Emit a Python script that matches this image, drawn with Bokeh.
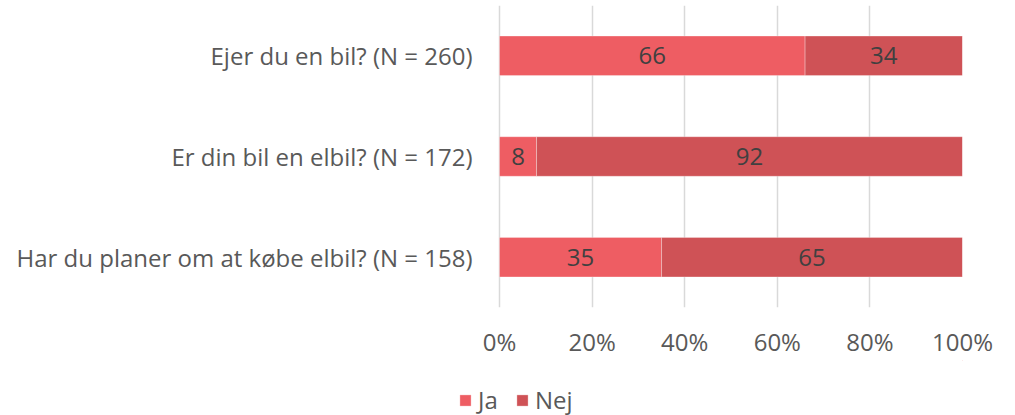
from bokeh.plotting import figure
from bokeh.layouts import column
from bokeh.models import (ColumnDataSource, Legend, LegendItem, PrintfTickFormatter,
                          FixedTicker, FactorRange, Range1d)
from bokeh.core.properties import value
from bokeh.embed import file_html
from bokeh.resources import INLINE

categories = ["Har du planer om at købe elbil? (N = 158)",
              "Er din bil en elbil? (N = 172)",
              "Ejer du en bil? (N = 260)"]
ja = [35, 8, 66]
nej = [65, 92, 34]
series_names = ["Ja", "Nej"]
colors = ["#EE5D63", "#CF5256"]
x_ticks = [0, 20, 40, 60, 80, 100]

FONT = "Open Sans"
TXT = "#595959"

# layout (pixels): plot area shared by chart and legend row starts at 458,
# the 0% line sits at 499 and 100% at 962
FRAME_LEFT, ZERO_PX, FULL_PX, FIG_W = 458, 499, 962, 1000
x_start = -(ZERO_PX - FRAME_LEFT) * 100.0 / (FULL_PX - ZERO_PX)

src = ColumnDataSource(dict(
    cat=categories, Ja=ja, Nej=nej,
    ja_mid=[v / 2 for v in ja],
    nej_mid=[a + b / 2 for a, b in zip(ja, nej)],
    ja_lbl=[str(v) for v in ja],
    nej_lbl=[str(v) for v in nej],
))

p = figure(y_range=FactorRange(factors=categories, range_padding=0),
           x_range=Range1d(x_start, 100),
           width=FIG_W, height=360,
           output_backend="svg", toolbar_location=None,
           min_border_left=FRAME_LEFT, min_border_right=FIG_W - FULL_PX,
           min_border_top=5, min_border_bottom=50)

rs = p.hbar_stack(series_names, y="cat", height=0.393, color=colors, source=src,
                  line_color="white", line_alpha=0.3, line_width=1)

for xcol, tcol in (("ja_mid", "ja_lbl"), ("nej_mid", "nej_lbl")):
    p.text(x=xcol, y="cat", text=tcol, source=src,
           text_align="center", text_baseline="middle",
           text_font=value(FONT), text_font_size="24px", text_color="#404040")

p.xaxis.ticker = FixedTicker(ticks=x_ticks)
p.xaxis.formatter = PrintfTickFormatter(format="%d%%")
for ax in (p.xaxis, p.yaxis):
    ax.axis_line_color = None
    ax.major_tick_line_color = None
    ax.minor_tick_line_color = None
    ax.major_tick_out = 0
    ax.major_tick_in = 0
    ax.major_label_text_font = FONT
    ax.major_label_text_font_size = "24px"
    ax.major_label_text_color = TXT
p.xaxis.major_label_standoff = 17
p.yaxis.major_label_standoff = 27 - (ZERO_PX - FRAME_LEFT)

p.xgrid.ticker = FixedTicker(ticks=x_ticks)
p.xgrid.grid_line_color = "#D9D9D9"
p.xgrid.grid_line_width = 1.5
p.ygrid.grid_line_color = None
p.outline_line_color = None

# legend row below the chart (proxy bars sit far outside the visible range)
p2 = figure(width=FIG_W, height=55, x_range=Range1d(0, 1), y_range=Range1d(0, 1),
            output_backend="svg", toolbar_location=None,
            min_border_left=FRAME_LEFT, min_border_right=FIG_W - FULL_PX,
            min_border_top=0, min_border_bottom=0)
p2.axis.visible = False
p2.grid.grid_line_color = None
p2.outline_line_color = None
proxies = [p2.hbar(y=[50], left=[50], right=[51], height=0.4, fill_color=c,
                   line_color="white", line_alpha=0.3, line_width=1) for c in colors]

legend = Legend(items=[LegendItem(label=n, renderers=[r]) for n, r in zip(series_names, proxies)],
                orientation="horizontal", location=(0, -1),
                glyph_width=14, glyph_height=14, label_standoff=6, spacing=17,
                padding=0, margin=0, border_line_color=None, background_fill_alpha=0,
                label_text_font=FONT, label_text_font_size="24px", label_text_color=TXT)
p2.add_layout(legend)

layout = column(p, p2, spacing=0)
open("out.html", "w").write(file_html(layout, INLINE))
